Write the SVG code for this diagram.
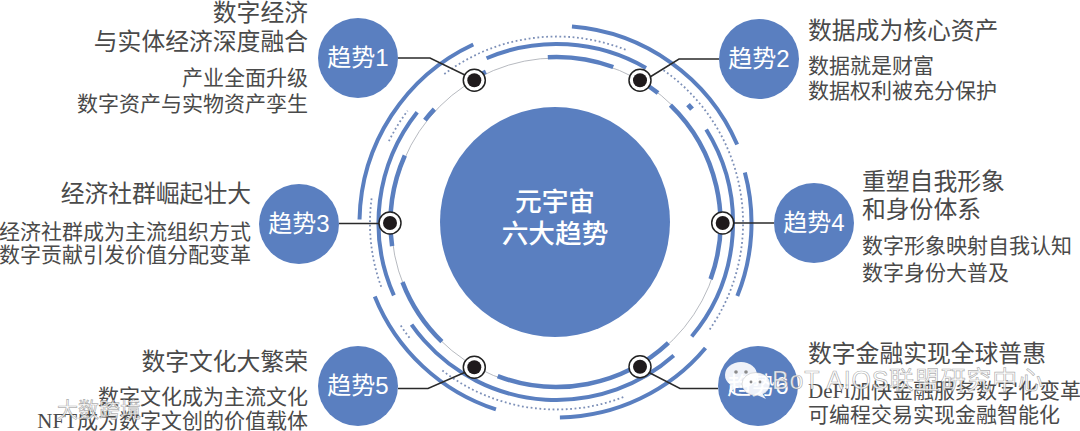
<svg xmlns="http://www.w3.org/2000/svg" width="1080" height="431" viewBox="0 0 1080 431">
<style>
.a{fill:none;stroke:#5a7fc0}
.o{stroke-width:4}.m{stroke-width:4}.i{stroke-width:4.5}
.d{fill:none;stroke:#7d90b8;stroke-width:1.8;stroke-dasharray:1.8 2.6}
.b{fill:#5a7fc0}
.l{fill:none;stroke:#2a2a2a;stroke-width:1.5}
.r{fill:#fff;stroke:#222;stroke-width:1.5}
.k{fill:#1f1a1c}
text{font-family:"Liberation Sans","Noto Sans CJK SC",sans-serif}
.c{fill:#fff;font-size:24px;text-anchor:middle}
.h{font-size:26.7px;font-weight:500}
.t{fill:#4a4a4a;font-size:23.8px;font-family:"Liberation Serif","Noto Sans CJK SC",sans-serif}
.s{fill:#4a4a4a;font-size:21px;font-family:"Liberation Serif","Noto Sans CJK SC",sans-serif}
.e{text-anchor:end}
.w{fill:#fff;fill-opacity:.85;stroke:#777;stroke-opacity:.6;stroke-width:.7}
</style>
<rect width="1080" height="431" fill="#fff"/>
<g id="center">
<circle class="b" cx="555" cy="222" r="115"/>
<text class="c h" x="555" y="211">元宇宙</text>
<text class="c h" x="555" y="243">六大趋势</text>
</g>
<g id="rings">
<circle cx="556.5" cy="223" r="165" fill="none" stroke="#a5a8b0" stroke-width=".8"/>
<path class="d" d="M444.3 74.1A186.5 186.5 0 0 1 627.9 50.7"/>
<path class="d" d="M663.5 70.2A186.5 186.5 0 0 1 709.3 330"/>
<path class="d" d="M623.3 397.1A186.5 186.5 0 0 1 441.7 370"/>
<path class="d" d="M409.5 337.8A186.5 186.5 0 0 1 400.1 324.6"/>
<path class="d" d="M381.2 286.8A186.5 186.5 0 0 1 371.8 197"/>
<path class="d" d="M388.9 141.2A186.5 186.5 0 0 1 407.6 110.8"/>
<circle class="a o" cx="556.5" cy="223" r="197" pathLength="360" stroke-dasharray="62 720" transform="rotate(-85.5 556.5 223)"/>
<circle class="a o" cx="556.5" cy="223" r="195" pathLength="360" stroke-dasharray="37 720" transform="rotate(-15 556.5 223)"/>
<circle class="a o" cx="556.5" cy="223" r="194.5" pathLength="360" stroke-dasharray="49 720" transform="rotate(40 556.5 223)"/>
<circle class="a o" cx="556.5" cy="223" r="196" pathLength="360" stroke-dasharray="50 720" transform="rotate(108 556.5 223)"/>
<circle class="a o" cx="556.5" cy="223" r="197" pathLength="360" stroke-dasharray="64 720" transform="rotate(181 556.5 223)"/>
<circle class="a m" cx="556.5" cy="223" r="179" pathLength="360" stroke-dasharray="53 720" transform="rotate(247 556.5 223)"/>
<circle class="a m" cx="556.5" cy="223" r="176.5" pathLength="360" stroke-dasharray="72 720" transform="rotate(328 556.5 223)"/>
<circle class="a m" cx="556.5" cy="223" r="177" pathLength="360" stroke-dasharray="96.5 720" transform="rotate(48.5 556.5 223)"/>
<circle class="a m" cx="556.5" cy="223" r="178" pathLength="360" stroke-dasharray="62.5 720" transform="rotate(156 556.5 223)"/>
<circle class="a i" cx="556.5" cy="223" r="177" pathLength="360" stroke-dasharray="2 720" transform="rotate(318 556.5 223)" style="stroke-width:5"/>
<circle class="a i" cx="556.5" cy="223" r="166" pathLength="360" stroke-dasharray="23 720" transform="rotate(267 556.5 223)"/>
<circle class="a i" cx="556.5" cy="223" r="167" pathLength="360" stroke-dasharray="7 720" transform="rotate(238 556.5 223)"/>
<circle class="a i" cx="556.5" cy="223" r="165" pathLength="360" stroke-dasharray="8 720" transform="rotate(300 556.5 223)"/>
<circle class="a i" cx="556.5" cy="223" r="164" pathLength="360" stroke-dasharray="66 720" transform="rotate(314 556.5 223)"/>
<circle class="a i" cx="556.5" cy="223" r="164" pathLength="360" stroke-dasharray="64 720" transform="rotate(47 556.5 223)"/>
<circle class="a i" cx="556.5" cy="223" r="165" pathLength="360" stroke-dasharray="25 720" transform="rotate(134 556.5 223)"/>
<circle class="a i" cx="556.5" cy="223" r="166" pathLength="360" stroke-dasharray="32 720" transform="rotate(172 556.5 223)"/>
<circle class="a i" cx="556.5" cy="223" r="167" pathLength="360" stroke-dasharray="5 720" transform="rotate(218 556.5 223)"/>
</g>
<g id="connectors">
<path class="l" d="M398 58H430L467 76"/>
<path class="l" d="M719 59H679L650 77"/>
<path class="l" d="M339 223.500H380"/>
<path class="l" d="M733 223H774"/>
<path class="l" d="M398 388.500H428L468 371"/>
<path class="l" d="M718 388.500H680L648 372"/>
</g>
<g id="dot1"><circle class="r" cx="474.300" cy="80.300" r="11"/><circle class="k" cx="474.300" cy="80.300" r="7"/></g>
<g id="dot2"><circle class="r" cx="640" cy="80.300" r="11"/><circle class="k" cx="640" cy="80.300" r="7"/></g>
<g id="dot3"><circle class="r" cx="390" cy="223" r="11"/><circle class="k" cx="390" cy="223" r="7"/></g>
<g id="dot4"><circle class="r" cx="722.700" cy="223" r="11"/><circle class="k" cx="722.700" cy="223" r="7"/></g>
<g id="dot5"><circle class="r" cx="474.300" cy="367.300" r="11"/><circle class="k" cx="474.300" cy="367.300" r="7"/></g>
<g id="dot6"><circle class="r" cx="640" cy="366.700" r="11"/><circle class="k" cx="640" cy="366.700" r="7"/></g>
<g id="trend1">
<circle class="b" cx="358" cy="58" r="40"/><text class="c" x="358" y="66">趋势1</text>
<text class="t e" x="308" y="21">数字经济</text>
<text class="t e" x="308" y="50">与实体经济深度融合</text>
<text class="s e" x="308" y="85">产业全面升级</text>
<text class="s e" x="308" y="111">数字资产与实物资产孪生</text>
</g>
<g id="trend2">
<circle class="b" cx="759" cy="59" r="40"/><text class="c" x="759" y="67">趋势2</text>
<text class="t" x="808" y="39">数据成为核心资产</text>
<text class="s" x="808" y="73">数据就是财富</text>
<text class="s" x="808" y="98">数据权利被充分保护</text>
</g>
<g id="trend3">
<circle class="b" cx="299" cy="224" r="40"/><text class="c" x="299" y="232">趋势3</text>
<text class="t e" x="251" y="202">经济社群崛起壮大</text>
<text class="s e" x="251" y="239">经济社群成为主流组织方式</text>
<text class="s e" x="251" y="262">数字贡献引发价值分配变革</text>
</g>
<g id="trend4">
<circle class="b" cx="814" cy="223" r="40"/><text class="c" x="814" y="231">趋势4</text>
<text class="t" x="862" y="190">重塑自我形象</text>
<text class="t" x="862" y="218">和身份体系</text>
<text class="s" x="862" y="253">数字形象映射自我认知</text>
<text class="s" x="862" y="280">数字身份大普及</text>
</g>
<g id="trend5">
<circle class="b" cx="358" cy="386" r="40"/><text class="c" x="358" y="394">趋势5</text>
<text class="t e" x="308" y="370">数字文化大繁荣</text>
<text class="s e" x="308" y="404">数字文化成为主流文化</text>
<text class="s e" x="308" y="428">NFT成为数字文创的价值载体</text>
</g>
<g id="trend6">
<circle class="b" cx="758" cy="386" r="40"/><text class="c" x="758" y="394">趋势6</text>
<text class="t" x="808" y="362">数字金融实现全球普惠</text>
<text class="s" x="808" y="398">DeFi加快金融服务数字化变革</text>
<text class="s" x="808" y="422">可编程交易实现金融智能化</text>
</g>
<g id="watermark">
<ellipse cx="741" cy="375" rx="16" ry="13" fill="#fff" fill-opacity=".9"/>
<path d="M731 385l-2 7 9-5z" fill="#fff" fill-opacity=".9"/>
<ellipse cx="756" cy="384" rx="14" ry="11.500" fill="#fff" fill-opacity=".9" stroke="#777" stroke-opacity=".4" stroke-width=".6"/>
<path d="M762 393l4 6-9-4z" fill="#fff" fill-opacity=".9"/>
<circle cx="736" cy="372" r="1.800" fill="#8a8a8a"/><circle cx="746" cy="372" r="1.800" fill="#8a8a8a"/>
<circle cx="751" cy="382" r="1.400" fill="#8a8a8a"/><circle cx="760" cy="382" r="1.400" fill="#8a8a8a"/>
<text class="w" x="772" y="389" style="font-size:25px;letter-spacing:.8px">BoT AIOS联盟研究中心</text>
<path d="M15 402v16M24 402l-8 8 8 9" fill="none" stroke="#fff" stroke-opacity=".9" stroke-width="2.500"/>
<circle cx="33" cy="402" r="4" fill="none" stroke="#fff" stroke-opacity=".9" stroke-width="1.600"/>
<circle cx="43" cy="402" r="4" fill="none" stroke="#fff" stroke-opacity=".9" stroke-width="1.600"/>
<text class="w" x="57" y="417" style="font-size:21px">大数跨境</text>
</g>
</svg>
